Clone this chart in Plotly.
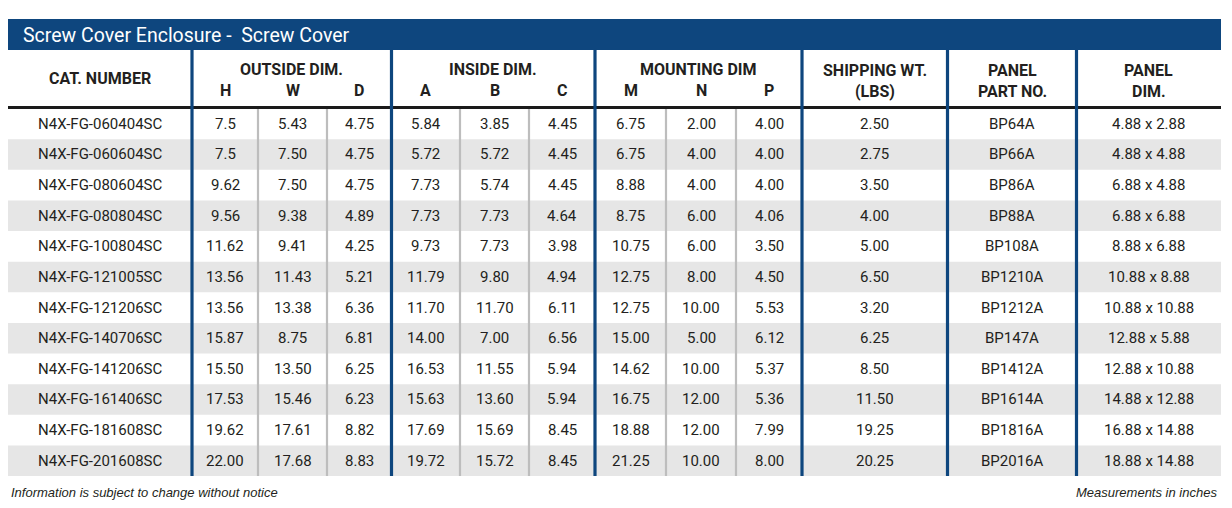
"""
Screw Cover Enclosure spec table, drawn with shapes and annotations.
"""

import plotly.graph_objects as go

TITLE = "Screw Cover Enclosure -  Screw Cover"
NOTE_LEFT = "Information is subject to change without notice"
NOTE_RIGHT = "Measurements in inches"

cat_number = [
    "N4X-FG-060404SC", "N4X-FG-060604SC", "N4X-FG-080604SC", "N4X-FG-080804SC",
    "N4X-FG-100804SC", "N4X-FG-121005SC", "N4X-FG-121206SC", "N4X-FG-140706SC",
    "N4X-FG-141206SC", "N4X-FG-161406SC", "N4X-FG-181608SC", "N4X-FG-201608SC",
]
out_h = ["7.5", "7.5", "9.62", "9.56", "11.62", "13.56", "13.56", "15.87", "15.50", "17.53", "19.62", "22.00"]
out_w = ["5.43", "7.50", "7.50", "9.38", "9.41", "11.43", "13.38", "8.75", "13.50", "15.46", "17.61", "17.68"]
out_d = ["4.75", "4.75", "4.75", "4.89", "4.25", "5.21", "6.36", "6.81", "6.25", "6.23", "8.82", "8.83"]
in_a = ["5.84", "5.72", "7.73", "7.73", "9.73", "11.79", "11.70", "14.00", "16.53", "15.63", "17.69", "19.72"]
in_b = ["3.85", "5.72", "5.74", "7.73", "7.73", "9.80", "11.70", "7.00", "11.55", "13.60", "15.69", "15.72"]
in_c = ["4.45", "4.45", "4.45", "4.64", "3.98", "4.94", "6.11", "6.56", "5.94", "5.94", "8.45", "8.45"]
mount_m = ["6.75", "6.75", "8.88", "8.75", "10.75", "12.75", "12.75", "15.00", "14.62", "16.75", "18.88", "21.25"]
mount_n = ["2.00", "4.00", "4.00", "6.00", "6.00", "8.00", "10.00", "5.00", "10.00", "12.00", "12.00", "10.00"]
mount_p = ["4.00", "4.00", "4.00", "4.06", "3.50", "4.50", "5.53", "6.12", "5.37", "5.36", "7.99", "8.00"]
ship_wt = ["2.50", "2.75", "3.50", "4.00", "5.00", "6.50", "3.20", "6.25", "8.50", "11.50", "19.25", "20.25"]
panel_part = ["BP64A", "BP66A", "BP86A", "BP88A", "BP108A", "BP1210A", "BP1212A", "BP147A",
              "BP1412A", "BP1614A", "BP1816A", "BP2016A"]
panel_dim = ["4.88 x 2.88", "4.88 x 4.88", "6.88 x 4.88", "6.88 x 6.88", "8.88 x 6.88",
             "10.88 x 8.88", "10.88 x 10.88", "12.88 x 5.88", "12.88 x 10.88",
             "14.88 x 12.88", "16.88 x 14.88", "18.88 x 14.88"]

# header groups: (label lines, sub labels)
groups = [
    (["CAT. NUMBER"], None),
    (["OUTSIDE DIM."], ["H", "W", "D"]),
    (["INSIDE DIM."], ["A", "B", "C"]),
    (["MOUNTING DIM"], ["M", "N", "P"]),
    (["SHIPPING WT.", "(LBS)"], None),
    (["PANEL", "PART NO."], None),
    (["PANEL", "DIM."], None),
]
columns = [cat_number, out_h, out_w, out_d, in_a, in_b, in_c,
           mount_m, mount_n, mount_p, ship_wt, panel_part, panel_dim]

# geometry in page pixels; the page body has an 8px margin, so the
# figure is 8px smaller and its axes start at 8
W, H = 1232, 508
PAD = 8
LEFT, RIGHT = 8, 1221
TITLE_TOP, TITLE_BOT = 19, 50
HEAD_BOT = 107.5
ROW_TOP, ROW_BOT = 108.5, 476
col_edges = [LEFT, 192, 258, 327, 391.5, 460, 529, 595, 666, 736, 802, 947.5, 1076.5, RIGHT]
group_edges = [LEFT, 192, 391.5, 595, 802, 947.5, 1076.5, RIGHT]

BLUE = "#0e467e"
TEXT = "#231f20"
SHADE = "#e6e6e6"
GRID = "#bdbdbd"
FONT = "Roboto"

n_rows = len(cat_number)
row_h = (ROW_BOT - ROW_TOP) / n_rows

fig = go.Figure()
shapes = []
ann = []

# title bar
shapes.append(dict(type="rect", x0=LEFT, x1=RIGHT, y0=TITLE_TOP, y1=TITLE_BOT,
                   fillcolor=BLUE, line=dict(width=0), layer="below"))
ann.append(dict(x=21, y=(TITLE_TOP + TITLE_BOT) / 2 + 0.5, text=TITLE, xanchor="left",
                yanchor="middle", showarrow=False,
                font=dict(family=FONT, size=19.5, color="white")))

# row shading
for i in range(n_rows):
    if i % 2 == 1:
        y0 = ROW_TOP + i * row_h
        shapes.append(dict(type="rect", x0=LEFT, x1=RIGHT, y0=y0, y1=y0 + row_h,
                           fillcolor=SHADE, line=dict(width=0), layer="below"))

# thin grey separators inside groups
for x in [258, 327, 460, 529, 666, 736]:
    shapes.append(dict(type="line", x0=x, x1=x, y0=ROW_TOP, y1=ROW_BOT,
                       line=dict(color=GRID, width=2.2)))

# black rule under the header
shapes.append(dict(type="line", x0=LEFT, x1=RIGHT, y0=HEAD_BOT, y1=HEAD_BOT,
                   line=dict(color="#1a1a1a", width=3)))

# blue group separators
for x in group_edges[1:-1]:
    shapes.append(dict(type="line", x0=x, x1=x, y0=TITLE_BOT, y1=ROW_BOT,
                       line=dict(color=BLUE, width=3.2)))

# header text
hfont = dict(family=FONT, size=16, color=TEXT, weight="bold")
ci = 0
for gi, (lines, subs) in enumerate(groups):
    gx = (group_edges[gi] + group_edges[gi + 1]) / 2
    if subs:
        ann.append(dict(x=gx, y=69, text=lines[0], showarrow=False, font=hfont))
        for s in subs:
            cx = (col_edges[ci] + col_edges[ci + 1]) / 2
            ann.append(dict(x=cx, y=90.5, text=s, showarrow=False, font=hfont))
            ci += 1
    else:
        if len(lines) == 1:
            ann.append(dict(x=gx, y=78, text=lines[0], showarrow=False, font=hfont))
        else:
            ann.append(dict(x=gx, y=70, text=lines[0], showarrow=False, font=hfont))
            ann.append(dict(x=gx, y=91, text=lines[1], showarrow=False, font=hfont))
        ci += 1

# body text
dfont = dict(family=FONT, size=15, color=TEXT)
for c, vals in enumerate(columns):
    cx = (col_edges[c] + col_edges[c + 1]) / 2
    for i, v in enumerate(vals):
        cy = ROW_TOP + (i + 0.5) * row_h
        ann.append(dict(x=cx, y=cy, text=v, showarrow=False, font=dfont))

# footnotes
nfont = dict(family="Liberation Sans", size=13, color=TEXT, style="italic")
ann.append(dict(x=9, y=492.5, text=NOTE_LEFT, xanchor="left", showarrow=False, font=nfont))
ann.append(dict(x=1219, y=492.5, text=NOTE_RIGHT, xanchor="right", showarrow=False, font=nfont))

fig.update_layout(
    width=W - PAD, height=H - PAD,
    margin=dict(l=0, r=0, t=0, b=0),
    paper_bgcolor="white", plot_bgcolor="white",
    xaxis=dict(range=[PAD, W], visible=False, fixedrange=True),
    yaxis=dict(range=[H, PAD], visible=False, fixedrange=True),
    shapes=shapes, annotations=ann, showlegend=False,
)

fig.write_html("out.html", config={"displayModeBar": False})
